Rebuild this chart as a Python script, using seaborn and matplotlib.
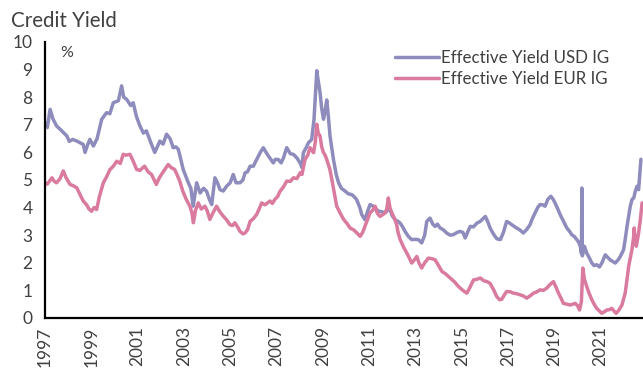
import numpy as np
import pandas as pd
import matplotlib
matplotlib.use("Agg")
import matplotlib.pyplot as plt
import seaborn as sns

# ---- data ----
usd_t = [1997.0, 1997.1, 1997.22, 1997.35, 1997.5, 1997.7, 1997.94, 1998.05, 1998.2, 1998.4,
         1998.65, 1998.73, 1998.85, 1998.94, 1999.09, 1999.25, 1999.45, 1999.66, 1999.8, 1999.95,
         2000.17, 2000.31, 2000.4, 2000.52, 2000.7, 2000.81, 2000.95, 2001.1, 2001.25, 2001.38,
         2001.55, 2001.74, 2001.85, 2001.96, 2002.1, 2002.25, 2002.4, 2002.54, 2002.65, 2002.76,
         2002.97, 2003.1, 2003.19, 2003.3, 2003.4, 2003.55, 2003.7, 2003.85, 2003.98, 2004.1,
         2004.2, 2004.34, 2004.45, 2004.56, 2004.7, 2004.85, 2005.0, 2005.13, 2005.25, 2005.42,
         2005.55, 2005.64, 2005.75, 2005.86, 2006.0, 2006.14, 2006.3, 2006.43, 2006.55, 2006.65,
         2006.86, 2006.95, 2007.08, 2007.2, 2007.3, 2007.44, 2007.6, 2007.73, 2007.88, 2008.02,
         2008.1, 2008.16, 2008.3, 2008.38, 2008.52, 2008.62, 2008.74, 2008.8, 2008.88, 2008.95,
         2009.03, 2009.1, 2009.17, 2009.24, 2009.31, 2009.46, 2009.58, 2009.68, 2009.8, 2009.96,
         2010.1, 2010.25, 2010.35, 2010.46, 2010.6, 2010.68, 2010.82, 2010.95, 2011.04, 2011.18,
         2011.3, 2011.4, 2011.55, 2011.69, 2011.8, 2011.9, 2012.0, 2012.12, 2012.25, 2012.34,
         2012.45, 2012.55, 2012.7, 2012.84, 2013.0, 2013.13, 2013.27, 2013.4, 2013.49, 2013.63,
         2013.75, 2013.85, 2013.95, 2014.07, 2014.2, 2014.35, 2014.5, 2014.64, 2014.8, 2014.93,
         2015.05, 2015.15, 2015.25, 2015.37, 2015.5, 2015.66, 2015.8, 2016.02, 2016.12, 2016.23,
         2016.4, 2016.52, 2016.67, 2016.8, 2016.94, 2017.05, 2017.16, 2017.37, 2017.5, 2017.66,
         2017.8, 2017.95, 2018.05, 2018.17, 2018.28, 2018.38, 2018.5, 2018.6, 2018.72, 2018.85,
         2018.95, 2019.03, 2019.15, 2019.25, 2019.4, 2019.54, 2019.65, 2019.75, 2019.87, 2019.97,
         2020.05, 2020.12, 2020.17, 2020.19, 2020.21, 2020.3, 2020.4, 2020.5, 2020.62, 2020.72,
         2020.83, 2020.95, 2021.05, 2021.2, 2021.3, 2021.41, 2021.52, 2021.63, 2021.75, 2021.85,
         2021.99, 2022.07, 2022.14, 2022.28, 2022.36, 2022.43, 2022.5, 2022.57, 2022.64, 2022.74]
usd_y = [7.08, 6.9, 7.56, 7.2, 6.96, 6.8, 6.6, 6.4, 6.47, 6.4,
         6.29, 6.0, 6.3, 6.47, 6.23, 6.5, 7.2, 7.44, 7.4, 7.8,
         7.87, 8.41, 8.0, 7.93, 7.7, 7.8, 7.3, 6.96, 6.7, 6.78,
         6.4, 6.0, 6.2, 6.41, 6.3, 6.66, 6.5, 6.17, 6.2, 6.11,
         5.38, 5.1, 4.9, 4.7, 4.05, 4.9, 4.53, 4.7, 4.59, 4.3,
         4.11, 5.08, 4.9, 4.65, 4.6, 4.78, 4.9, 5.2, 4.9, 4.9,
         5.0, 5.26, 5.3, 5.5, 5.5, 5.74, 6.0, 6.17, 6.0, 5.87,
         5.62, 5.75, 5.74, 5.62, 5.8, 6.17, 5.95, 5.93, 5.8, 5.62,
         5.45, 5.99, 6.2, 6.35, 6.47, 7.2, 8.96, 8.6, 8.17, 7.6,
         7.2, 7.5, 7.9, 7.3, 6.6, 5.74, 5.2, 4.9, 4.7, 4.6,
         4.5, 4.47, 4.4, 4.29, 4.0, 3.75, 3.56, 3.9, 4.11, 4.05,
         3.95, 3.87, 3.85, 3.81, 3.9, 3.93, 3.7, 3.56, 3.5, 3.44,
         3.3, 3.14, 2.95, 2.84, 2.85, 2.84, 2.72, 3.0, 3.5, 3.62,
         3.4, 3.32, 3.4, 3.26, 3.2, 3.08, 3.0, 3.02, 3.1, 3.14,
         3.1, 2.9, 3.1, 3.32, 3.3, 3.44, 3.5, 3.68, 3.5, 3.25,
         3.0, 2.87, 2.84, 3.1, 3.5, 3.45, 3.38, 3.26, 3.2, 3.08,
         3.2, 3.38, 3.6, 3.81, 4.0, 4.11, 4.1, 4.05, 4.3, 4.41,
         4.3, 4.17, 3.95, 3.75, 3.5, 3.26, 3.15, 3.02, 2.95, 2.84,
         2.75, 2.6, 2.35, 4.71, 2.25, 2.6, 2.35, 2.2, 1.99, 1.9,
         1.93, 1.85, 1.99, 2.29, 2.2, 2.11, 2.05, 1.99, 2.1, 2.23,
         2.47, 2.9, 3.32, 4.05, 4.3, 4.35, 4.6, 4.77, 4.65, 5.75]

eur_t = [1997.0, 1997.1, 1997.3, 1997.4, 1997.5, 1997.65, 1997.79, 1997.9, 1998.08, 1998.2,
         1998.37, 1998.5, 1998.65, 1998.8, 1998.9, 1999.01, 1999.12, 1999.23, 1999.35, 1999.52,
         1999.65, 1999.81, 1999.95, 2000.1, 2000.25, 2000.38, 2000.5, 2000.67, 2000.8, 2000.96,
         2001.1, 2001.3, 2001.45, 2001.6, 2001.81, 2001.92, 2002.03, 2002.15, 2002.32, 2002.45,
         2002.6, 2002.7, 2002.82, 2002.95, 2003.1, 2003.26, 2003.35, 2003.41, 2003.5, 2003.62,
         2003.75, 2003.91, 2004.0, 2004.12, 2004.25, 2004.41, 2004.55, 2004.7, 2004.85, 2004.99,
         2005.1, 2005.2, 2005.32, 2005.42, 2005.55, 2005.64, 2005.75, 2005.86, 2006.0, 2006.14,
         2006.25, 2006.36, 2006.5, 2006.72, 2006.82, 2006.93, 2007.05, 2007.15, 2007.3, 2007.44,
         2007.6, 2007.73, 2007.88, 2008.02, 2008.1, 2008.23, 2008.35, 2008.45, 2008.6, 2008.68,
         2008.74, 2008.8, 2008.88, 2008.95, 2009.03, 2009.1, 2009.17, 2009.3, 2009.39, 2009.5,
         2009.6, 2009.75, 2009.9, 2010.03, 2010.19, 2010.32, 2010.45, 2010.61, 2010.72, 2010.82,
         2010.95, 2011.04, 2011.15, 2011.26, 2011.35, 2011.47, 2011.6, 2011.69, 2011.76, 2011.83,
         2011.9, 2011.98, 2012.1, 2012.19, 2012.25, 2012.34, 2012.5, 2012.63, 2012.75, 2012.84,
         2012.95, 2013.06, 2013.15, 2013.27, 2013.4, 2013.56, 2013.7, 2013.85, 2014.0, 2014.14,
         2014.3, 2014.5, 2014.7, 2014.86, 2015.05, 2015.22, 2015.35, 2015.51, 2015.65, 2015.8,
         2015.95, 2016.09, 2016.22, 2016.38, 2016.51, 2016.64, 2016.73, 2016.85, 2016.94, 2017.1,
         2017.23, 2017.38, 2017.52, 2017.66, 2017.81, 2017.95, 2018.1, 2018.25, 2018.38, 2018.52,
         2018.67, 2018.8, 2018.96, 2019.08, 2019.18, 2019.3, 2019.39, 2019.55, 2019.68, 2019.8,
         2019.9, 2020.0, 2020.09, 2020.17, 2020.23, 2020.3, 2020.4, 2020.5, 2020.62, 2020.72,
         2020.83, 2020.95, 2021.05, 2021.15, 2021.27, 2021.38, 2021.48, 2021.58, 2021.67, 2021.8,
         2021.92, 2022.06, 2022.14, 2022.21, 2022.35, 2022.42, 2022.45, 2022.49, 2022.54, 2022.64,
         2022.72, 2022.79]
eur_y = [4.9, 4.85, 5.08, 4.95, 4.9, 5.05, 5.33, 5.1, 4.84, 4.8,
         4.72, 4.5, 4.24, 4.1, 3.95, 3.87, 4.0, 3.93, 4.4, 4.9,
         5.1, 5.38, 5.5, 5.68, 5.6, 5.93, 5.9, 5.93, 5.7, 5.38,
         5.35, 5.5, 5.3, 5.2, 4.84, 5.05, 5.2, 5.35, 5.56, 5.45,
         5.38, 5.2, 4.96, 4.6, 4.3, 4.05, 3.8, 3.45, 3.9, 4.17,
         3.95, 4.05, 3.9, 3.57, 3.8, 4.05, 3.85, 3.69, 3.55, 3.38,
         3.35, 3.45, 3.3, 3.14, 3.05, 3.08, 3.2, 3.5, 3.6, 3.75,
         3.95, 4.17, 4.1, 4.24, 4.15, 4.3, 4.4, 4.59, 4.75, 4.96,
         4.95, 5.08, 5.05, 5.26, 5.2, 5.74, 5.9, 6.17, 5.99, 6.4,
         7.02, 6.7, 6.6, 6.2, 5.99, 5.9, 5.74, 5.4, 5.02, 4.5,
         4.05, 3.8, 3.57, 3.44, 3.25, 3.2, 3.1, 2.96, 3.1, 3.32,
         3.6, 3.81, 3.9, 4.05, 3.8, 3.68, 3.75, 3.81, 3.95, 4.35,
         4.0, 3.81, 3.6, 3.38, 3.1, 2.84, 2.55, 2.35, 2.15, 1.99,
         2.1, 2.23, 2.0, 1.81, 2.0, 2.17, 2.15, 2.11, 1.9, 1.69,
         1.6, 1.45, 1.3, 1.14, 1.0, 0.9, 1.1, 1.38, 1.4, 1.45,
         1.35, 1.32, 1.26, 1.02, 0.78, 0.66, 0.68, 0.85, 0.96, 0.95,
         0.9, 0.88, 0.84, 0.8, 0.72, 0.8, 0.9, 0.95, 1.02, 1.0,
         1.08, 1.2, 1.32, 1.1, 0.9, 0.7, 0.53, 0.5, 0.47, 0.5,
         0.53, 0.45, 0.29, 0.6, 1.81, 1.4, 1.14, 0.9, 0.66, 0.5,
         0.35, 0.25, 0.17, 0.22, 0.29, 0.3, 0.35, 0.25, 0.17, 0.3,
         0.47, 0.9, 1.4, 1.87, 2.47, 2.9, 3.26, 2.8, 2.6, 3.08,
         3.6, 4.17]

series_names = ["Effective Yield USD IG", "Effective Yield EUR IG"]
series_colors = ["#8e8bbd", "#d97a9e"]
x_ticks = list(range(1997, 2022, 2))
y_ticks = list(range(0, 11))

df = pd.concat([
    pd.DataFrame({"year": usd_t, "yield": usd_y, "series": series_names[0]}),
    pd.DataFrame({"year": eur_t, "yield": eur_y, "series": series_names[1]}),
], ignore_index=True)

sns.set_style("white")
plt.rcParams["font.family"] = ["Lato", "DejaVu Sans"]

fig = plt.figure(figsize=(6.43, 3.72), dpi=100)
ax = fig.add_axes([45 / 643, 1 - 318 / 372, 1 - 45 / 643, (318 - 42) / 372])

sns.lineplot(data=df, x="year", y="yield", hue="series", hue_order=series_names,
             palette=series_colors, linewidth=2.5, sort=False, estimator=None, ax=ax,
             legend=True)

ax.set_xlim(1997.0, 2022.83)
ax.set_ylim(0, 10)
ax.set_xticks(x_ticks)
ax.set_xticklabels([str(t) for t in x_ticks], rotation=90)
ax.set_yticks(y_ticks)
ax.set_xlabel("")
ax.set_ylabel("")

text_color = "#404040"
ax.tick_params(axis="both", direction="in", length=5, width=1.5, colors="black",
               labelcolor=text_color, labelsize=12.5)
ax.tick_params(axis="y", pad=9)
ax.tick_params(axis="x", pad=6)
for side in ["top", "right"]:
    ax.spines[side].set_visible(False)
for side in ["left", "bottom"]:
    ax.spines[side].set_color("black")
    ax.spines[side].set_linewidth(1.6)

leg = ax.legend(loc="upper left", bbox_to_anchor=(395 / 643, 1 - 50 / 372),
                bbox_transform=fig.transFigure, frameon=False, fontsize=12.2,
                handlelength=2.6, handletextpad=0.1, borderpad=0, borderaxespad=0,
                labelspacing=0.3)
for t in leg.get_texts():
    t.set_color(text_color)
for h in leg.get_lines():
    h.set_linewidth(2.5)

fig.text(11 / 643, 1 - 27 / 372, "Credit Yield", fontsize=14.8, color=text_color,
         va="baseline", ha="left")
fig.text(60 / 643, 1 - 57 / 372, "%", fontsize=11.5, color=text_color,
         va="baseline", ha="left")

fig.savefig("out.png", dpi=100)
